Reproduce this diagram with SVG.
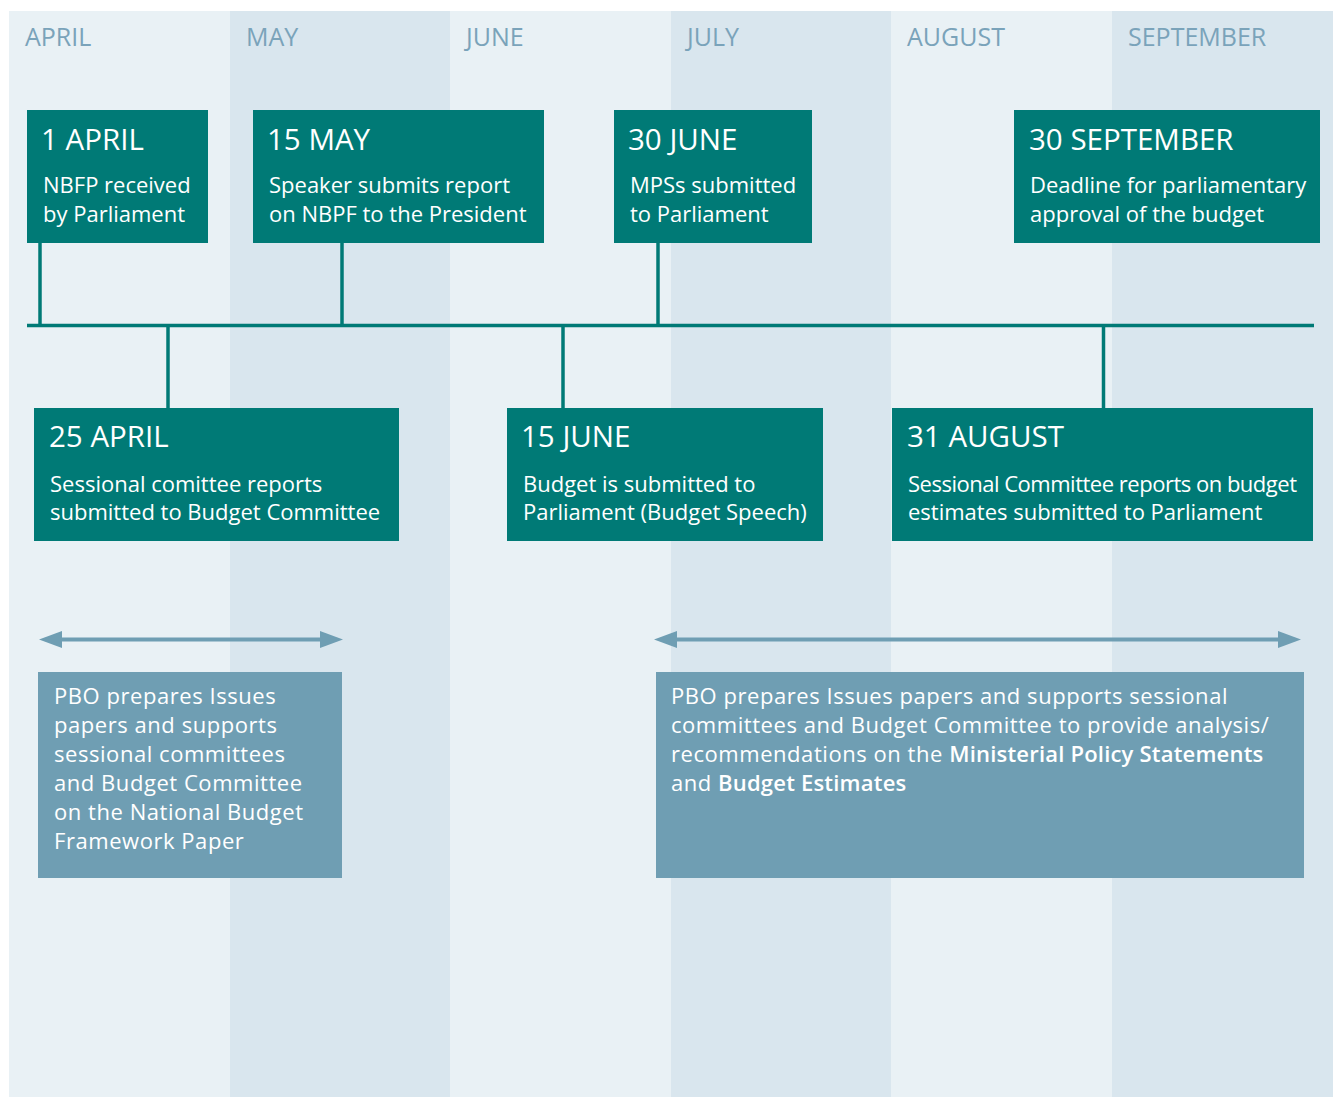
<svg xmlns="http://www.w3.org/2000/svg" width="1338" height="1097" viewBox="0 0 1338 1097">
  <style>
    .band-a { fill: #e9f1f5; }
    .band-b { fill: #d9e6ee; }
    .month { font-family: "Open Sans", "Noto Sans", sans-serif; font-size: 25px; fill: #7aa3ba; }
    .date-box { fill: #007a76; }
    .date { font-family: "Open Sans", "Noto Sans", sans-serif; font-size: 29.5px; fill: #ffffff; }
    .desc { font-family: "Open Sans", "Noto Sans", sans-serif; font-size: 22px; fill: #ffffff; }
    .task-box { fill: #6f9eb3; }
    .task { font-family: "Open Sans", "Noto Sans", sans-serif; font-size: 22px; fill: #ffffff; letter-spacing: 0.55px; }
    .task .b { font-weight: 600; letter-spacing: 0.2px; }
    .link { stroke: #007a76; stroke-width: 3.5; fill: none; }
    .span { stroke: #6f9eb3; stroke-width: 4; fill: none; }
    .head { fill: #6f9eb3; }
  </style>

  <!-- month columns -->
  <g id="months">
    <rect class="band-a" x="9" y="11" width="221" height="1086"/>
    <rect class="band-b" x="230" y="11" width="220" height="1086"/>
    <rect class="band-a" x="450" y="11" width="221" height="1086"/>
    <rect class="band-b" x="671" y="11" width="220" height="1086"/>
    <rect class="band-a" x="891" y="11" width="221" height="1086"/>
    <rect class="band-b" x="1112" y="11" width="221" height="1086"/>
    <text class="month" x="25" y="46">APRIL</text>
    <text class="month" x="246" y="46">MAY</text>
    <text class="month" x="466" y="46">JUNE</text>
    <text class="month" x="687" y="46">JULY</text>
    <text class="month" x="907" y="46">AUGUST</text>
    <text class="month" x="1128" y="46">SEPTEMBER</text>
  </g>

  <!-- timeline and ticks -->
  <g id="connectors">
    <line class="link" x1="27" y1="325.5" x2="1314" y2="325.5"/>
    <line class="link" x1="40" y1="243" x2="40" y2="325"/>
    <line class="link" x1="342" y1="243" x2="342" y2="325"/>
    <line class="link" x1="658" y1="243" x2="658" y2="325"/>
    <line class="link" x1="168" y1="326" x2="168" y2="408"/>
    <line class="link" x1="563" y1="326" x2="563" y2="408"/>
    <line class="link" x1="1103.5" y1="326" x2="1103.5" y2="408"/>
    <!-- period arrows -->
    <line class="span" x1="55" y1="639.5" x2="326" y2="639.5"/>
    <polygon class="head" points="39,639.5 62,631 62,648"/>
    <polygon class="head" points="343,639.5 320,631 320,648"/>
    <line class="span" x1="670" y1="639.5" x2="1285" y2="639.5"/>
    <polygon class="head" points="654,639.5 677,631 677,648"/>
    <polygon class="head" points="1301,639.5 1278,631 1278,648"/>
  </g>

  <g id="apr-1">
    <rect class="date-box" x="27" y="110" width="181" height="133"/>
    <text class="date" x="41" y="150">1 APRIL</text>
    <text class="desc" x="43" y="193">NBFP received</text>
    <text class="desc" x="43" y="222">by Parliament</text>
  </g>

  <g id="may-15">
    <rect class="date-box" x="253" y="110" width="291" height="133"/>
    <text class="date" x="267" y="150">15 MAY</text>
    <text class="desc" x="269" y="193">Speaker submits report</text>
    <text class="desc" x="269" y="222">on NBPF to the President</text>
  </g>

  <g id="jun-30">
    <rect class="date-box" x="614" y="110" width="198" height="133"/>
    <text class="date" x="628" y="150">30 JUNE</text>
    <text class="desc" x="630" y="193">MPSs submitted</text>
    <text class="desc" x="630" y="222">to Parliament</text>
  </g>

  <g id="sep-30">
    <rect class="date-box" x="1014" y="110" width="306" height="133"/>
    <text class="date" x="1029" y="150">30 SEPTEMBER</text>
    <text class="desc" x="1030" y="193">Deadline for parliamentary</text>
    <text class="desc" x="1030" y="222">approval of the budget</text>
  </g>

  <g id="apr-25">
    <rect class="date-box" x="34" y="408" width="365" height="133"/>
    <text class="date" x="49" y="447">25 APRIL</text>
    <text class="desc" x="50" y="492">Sessional comittee reports</text>
    <text class="desc" x="50" y="520">submitted to Budget Committee</text>
  </g>

  <g id="jun-15">
    <rect class="date-box" x="507" y="408" width="316" height="133"/>
    <text class="date" x="521" y="447">15 JUNE</text>
    <text class="desc" x="523" y="492">Budget is submitted to</text>
    <text class="desc" x="523" y="520">Parliament (Budget Speech)</text>
  </g>

  <g id="aug-31">
    <rect class="date-box" x="892" y="408" width="421" height="133"/>
    <text class="date" x="907" y="447">31 AUGUST</text>
    <text class="desc" x="908" y="492" textLength="389" lengthAdjust="spacing">Sessional Committee reports on budget</text>
    <text class="desc" x="908" y="520">estimates submitted to Parliament</text>
  </g>

  <g id="nbfp-support">
    <rect class="task-box" x="38" y="672" width="304" height="206"/>
    <text class="task">
      <tspan x="54" y="704">PBO prepares Issues</tspan>
      <tspan x="54" y="733">papers and supports</tspan>
      <tspan x="54" y="762">sessional committees</tspan>
      <tspan x="54" y="791">and Budget Committee</tspan>
      <tspan x="54" y="819.5">on the National Budget</tspan>
      <tspan x="54" y="848.5">Framework Paper</tspan>
    </text>
  </g>

  <g id="mps-support">
    <rect class="task-box" x="656" y="672" width="648" height="206"/>
    <text class="task">
      <tspan x="671" y="704">PBO prepares Issues papers and supports sessional</tspan>
      <tspan x="671" y="733">committees and Budget Committee to provide analysis/</tspan>
      <tspan x="671" y="762">recommendations on the <tspan class="b">Ministerial Policy Statements</tspan></tspan>
      <tspan x="671" y="791">and <tspan class="b">Budget Estimates</tspan></tspan>
    </text>
  </g>
</svg>
